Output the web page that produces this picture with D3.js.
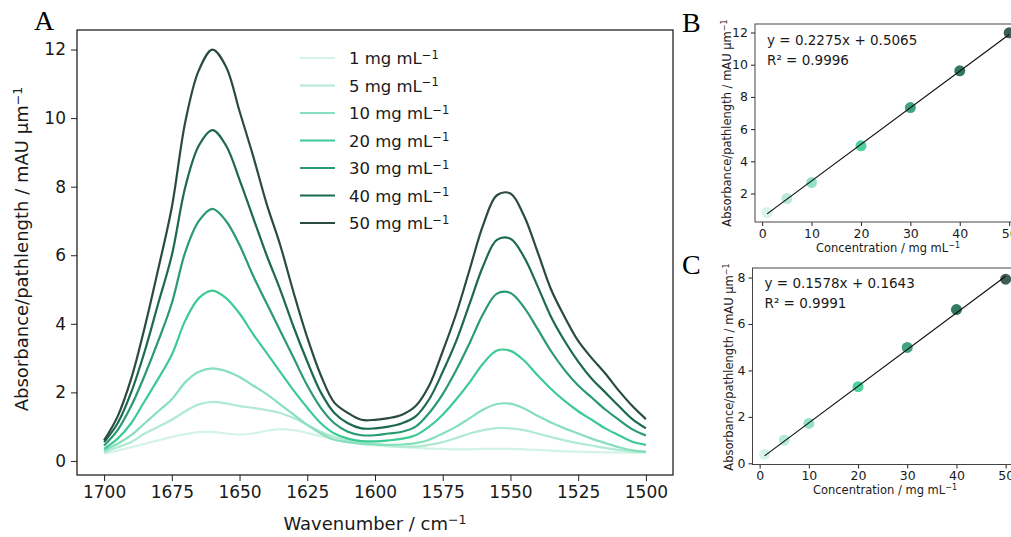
<!DOCTYPE html>
<html>
<head>
<meta charset="utf-8">
<script src="https://cdn.jsdelivr.net/npm/d3@7"></script>
<style>
  body { margin: 0; background: #fff; }
  svg { display: block; }
  text { font-family: 'DejaVu Sans', sans-serif; fill: #1a1a1a; }
  .panel-letter { font-family: 'Liberation Serif', serif; fill: #000; }
</style>
</head>
<body>
<div id="chart"></div>
<script>
const width = 1011;
const height = 537;

// wavenumber grid (cm-1) of the spectra
const wavenumbers = [1700, 1695, 1690, 1685, 1680, 1675, 1670, 1665, 1660, 1655,
    1650, 1645, 1640, 1635, 1630, 1625, 1620, 1615, 1610, 1605,
    1600, 1595, 1590, 1585, 1580, 1575, 1570, 1565, 1560, 1555,
    1550, 1545, 1540, 1535, 1530, 1525, 1520, 1515, 1510, 1505, 1500];

// absorbance/pathlength for each concentration
const abs1 = [0.22, 0.30, 0.40, 0.50, 0.60, 0.70, 0.78, 0.84, 0.85, 0.80,
    0.77, 0.80, 0.88, 0.93, 0.90, 0.82, 0.72, 0.62, 0.55, 0.50,
    0.45, 0.42, 0.40, 0.38, 0.36, 0.35, 0.34, 0.34, 0.35, 0.35,
    0.35, 0.34, 0.32, 0.30, 0.28, 0.27, 0.26, 0.25, 0.25, 0.24, 0.24];
const abs5 = [0.25, 0.40, 0.55, 0.80, 1.00, 1.20, 1.45, 1.65, 1.72, 1.68,
    1.60, 1.55, 1.48, 1.40, 1.25, 1.05, 0.85, 0.70, 0.60, 0.55,
    0.50, 0.45, 0.42, 0.42, 0.47, 0.55, 0.67, 0.80, 0.90, 0.96,
    0.95, 0.90, 0.80, 0.70, 0.60, 0.52, 0.45, 0.38, 0.32, 0.28, 0.26];
const abs10 = [0.30, 0.50, 0.75, 1.10, 1.45, 1.80, 2.30, 2.60, 2.70, 2.62,
    2.45, 2.20, 1.95, 1.65, 1.35, 1.05, 0.80, 0.62, 0.55, 0.50,
    0.48, 0.47, 0.48, 0.52, 0.62, 0.80, 1.00, 1.25, 1.50, 1.66,
    1.67, 1.53, 1.32, 1.12, 0.95, 0.80, 0.65, 0.52, 0.40, 0.31, 0.27];
const abs20 = [0.35, 0.65, 1.10, 1.75, 2.40, 3.10, 4.10, 4.75, 4.97, 4.75,
    4.30, 3.70, 3.15, 2.60, 2.05, 1.55, 1.10, 0.80, 0.65, 0.58,
    0.57, 0.60, 0.65, 0.75, 1.00, 1.35, 1.80, 2.30, 2.85, 3.22,
    3.21, 2.93, 2.50, 2.10, 1.75, 1.45, 1.20, 0.95, 0.75, 0.56, 0.47];
const abs30 = [0.45, 0.90, 1.60, 2.50, 3.50, 4.60, 6.10, 7.00, 7.35, 7.00,
    6.30, 5.40, 4.60, 3.80, 3.00, 2.20, 1.55, 1.10, 0.85, 0.75,
    0.75, 0.80, 0.85, 1.00, 1.40, 1.95, 2.65, 3.45, 4.30, 4.88,
    4.90, 4.48, 3.85, 3.20, 2.65, 2.20, 1.85, 1.50, 1.20, 0.92, 0.74];
const abs40 = [0.55, 1.10, 2.00, 3.20, 4.60, 6.00, 8.00, 9.20, 9.65, 9.20,
    8.20, 7.10, 6.00, 5.00, 3.90, 2.90, 2.00, 1.40, 1.10, 0.95,
    0.95, 1.00, 1.10, 1.30, 1.80, 2.60, 3.50, 4.60, 5.70, 6.45,
    6.48, 5.95, 5.10, 4.20, 3.50, 2.90, 2.40, 2.00, 1.60, 1.22, 0.95];
const abs50 = [0.60, 1.30, 2.40, 3.90, 5.60, 7.40, 9.90, 11.40, 12.00, 11.50,
    10.20, 8.90, 7.50, 6.30, 4.90, 3.60, 2.50, 1.70, 1.40, 1.20,
    1.20, 1.25, 1.35, 1.60, 2.20, 3.20, 4.30, 5.60, 6.90, 7.75,
    7.80, 7.15, 6.10, 5.00, 4.20, 3.50, 3.00, 2.55, 2.05, 1.60, 1.22];

const concentrations = [1, 5, 10, 20, 30, 40, 50];
const seriesColors = ['#d3f3e6', '#b0e9d4', '#86dfbd', '#3ccb95', '#2a9a71', '#1c6a4f', '#2a4b41'];

// calibration points: peak heights at ~1660 (B) and ~1553 (C)
const peakB = [0.82, 1.69, 2.68, 4.96, 7.34, 9.62, 11.98];
const peakC = [0.39, 1.00, 1.72, 3.30, 4.99, 6.62, 7.93];
const fitB = {slope: 0.2275, intercept: 0.5065, r2: '0.9996'};
const fitC = {slope: 0.1578, intercept: 0.1643, r2: '0.9991'};

const xTicksA = [1700, 1675, 1650, 1625, 1600, 1575, 1550, 1525, 1500];
const yTicksA = [0, 2, 4, 6, 8, 10, 12];
const xTicksBC = [0, 10, 20, 30, 40, 50];
const yTicksB = [2, 4, 6, 8, 10, 12];
const yTicksC = [0, 2, 4, 6, 8];

const svg = d3.select('#chart')
    .append('svg')
    .attr('width', width)
    .attr('height', height);

svg.append('rect').attr('width', width).attr('height', height).attr('fill', '#fff');

// text with a trailing superscript
const supText = (sel, base, sup) => {
    sel.append('tspan').text(base);
    sel.append('tspan').attr('dy', '-0.45em').attr('font-size', '0.7em').text(sup);
};

const styleAxis = (g, fontSize) => {
    g.select('.domain').remove();
    g.selectAll('.tick line').attr('stroke', '#222').attr('stroke-width', 1);
    g.selectAll('.tick text').attr('font-size', fontSize).attr('fill', '#1a1a1a')
        .style('font-family', "'DejaVu Sans', sans-serif");
};

// ---------- panel A: spectra ----------
const drawSpectra = () => {
    const box = {left: 77, right: 673, top: 30, bottom: 475};
    const x = d3.scaleLinear().domain([1710, 1490]).range([box.left, box.right]);
    const y = d3.scaleLinear().domain([-0.41, 12.57]).range([box.bottom, box.top]);

    const allSeries = [abs1, abs5, abs10, abs20, abs30, abs40, abs50];

    const line = d3.line()
        .x((d, i) => x(wavenumbers[i]))
        .y(d => y(d))
        .curve(d3.curveCatmullRom.alpha(0.5));

    svg.append('g')
        .selectAll('path')
        .data(allSeries)
        .join('path')
        .attr('fill', 'none')
        .attr('stroke', (d, i) => seriesColors[i])
        .attr('stroke-width', 2.2)
        .attr('stroke-linejoin', 'round')
        .attr('d', line);

    svg.append('g')
        .attr('transform', 'translate(0,' + box.bottom + ')')
        .call(d3.axisBottom(x).tickValues(xTicksA).tickFormat(d3.format('d')).tickSize(6).tickPadding(5))
        .call(g => styleAxis(g, 17));

    svg.append('g')
        .attr('transform', 'translate(' + box.left + ',0)')
        .call(d3.axisLeft(y).tickValues(yTicksA).tickSize(6).tickPadding(5))
        .call(g => styleAxis(g, 17));

    svg.append('rect')
        .attr('x', box.left).attr('y', box.top)
        .attr('width', box.right - box.left).attr('height', box.bottom - box.top)
        .attr('fill', 'none').attr('stroke', '#111').attr('stroke-width', 1.2);

    // legend
    const legend = svg.append('g');
    concentrations.forEach((c, i) => {
        const ly = 58 + i * 27.5;
        legend.append('line')
            .attr('x1', 300).attr('x2', 335).attr('y1', ly).attr('y2', ly)
            .attr('stroke', seriesColors[i]).attr('stroke-width', 2.2);
        legend.append('text')
            .attr('x', 349).attr('y', ly + 6)
            .attr('font-size', 16.5)
            .call(t => supText(t, c + ' mg mL', '\u22121'));
    });

    svg.append('text')
        .attr('x', (box.left + box.right) / 2).attr('y', 530)
        .attr('text-anchor', 'middle').attr('font-size', 18)
        .call(t => supText(t, 'Wavenumber / cm', '\u22121'));

    svg.append('text')
        .attr('transform', 'translate(28,' + 249 + ') rotate(-90)')
        .attr('text-anchor', 'middle').attr('font-size', 18)
        .call(t => supText(t, 'Absorbance/pathlength / mAU \u00b5m', '\u22121'));

    svg.append('text').attr('class', 'panel-letter')
        .attr('x', 34).attr('y', 30).attr('font-size', 28).text('A');
};

// ---------- panels B and C: calibration ----------
const drawCalibration = (opts) => {
    const box = opts.box;
    const x = d3.scaleLinear().domain([-1.45, 52.45])
        .range([box.left, box.left + 53.9 * opts.pxPerUnitX]);
    const y = d3.scaleLinear().domain(opts.yDomain).range([box.bottom, box.top]);

    // points
    svg.append('g')
        .selectAll('circle')
        .data(opts.values)
        .join('circle')
        .attr('cx', (d, i) => x(concentrations[i]))
        .attr('cy', d => y(d))
        .attr('r', 5.5)
        .attr('fill', (d, i) => seriesColors[i])
        .attr('opacity', 0.9);

    // fit line between first and last concentration
    const ends = [concentrations[0], concentrations[concentrations.length - 1]];
    svg.append('path')
        .datum(ends)
        .attr('fill', 'none')
        .attr('stroke', '#111')
        .attr('stroke-width', 1.2)
        .attr('d', d3.line()
            .x(d => x(d))
            .y(d => y(opts.fit.slope * d + opts.fit.intercept)));

    svg.append('g')
        .attr('transform', 'translate(0,' + box.bottom + ')')
        .call(d3.axisBottom(x).tickValues(xTicksBC).tickSize(4).tickPadding(3))
        .call(g => styleAxis(g, 12.5));

    svg.append('g')
        .attr('transform', 'translate(' + box.left + ',0)')
        .call(d3.axisLeft(y).tickValues(opts.yTicks).tickSize(4).tickPadding(3))
        .call(g => styleAxis(g, 12.5));

    svg.append('rect')
        .attr('x', box.left).attr('y', box.top)
        .attr('width', x(52.45) - box.left).attr('height', box.bottom - box.top)
        .attr('fill', 'none').attr('stroke', '#444').attr('stroke-width', 1);

    svg.append('text')
        .attr('x', box.left + 12).attr('y', box.top + opts.eqOffset)
        .attr('font-size', 13.5)
        .text('y = ' + opts.fit.slope + 'x + ' + opts.fit.intercept);
    svg.append('text')
        .attr('x', box.left + 12).attr('y', box.top + opts.eqOffset + 20)
        .attr('font-size', 13.5)
        .text('R\u00b2 = ' + opts.fit.r2);

    svg.append('text')
        .attr('x', opts.xLabelX).attr('y', opts.xLabelY)
        .attr('text-anchor', 'middle').attr('font-size', 11.5)
        .call(t => supText(t, 'Concentration / mg mL', '\u22121'));

    svg.append('text')
        .attr('transform', 'translate(' + opts.yLabelX + ',' + opts.yLabelY + ') rotate(-90)')
        .attr('text-anchor', 'middle').attr('font-size', 11.5)
        .call(t => supText(t, 'Absorbance/pathlength / mAU \u00b5m', '\u22121'));

    svg.append('text').attr('class', 'panel-letter')
        .attr('x', opts.letterX).attr('y', opts.letterY).attr('font-size', 28).text(opts.letter);
};

drawSpectra();

drawCalibration({
    box: {left: 755, top: 24, bottom: 222},
    pxPerUnitX: 4.94,
    yDomain: [0.23, 12.53],
    yTicks: yTicksB,
    values: peakB,
    fit: fitB,
    eqOffset: 21,
    xLabelX: 888, xLabelY: 252,
    yLabelX: 731, yLabelY: 123,
    letter: 'B', letterX: 682, letterY: 32
});

drawCalibration({
    box: {left: 752.5, top: 268, bottom: 464.5},
    pxPerUnitX: 4.92,
    yDomain: [-0.05, 8.41],
    yTicks: yTicksC,
    values: peakC,
    fit: fitC,
    eqOffset: 20,
    xLabelX: 885, xLabelY: 494,
    yLabelX: 733, yLabelY: 367,
    letter: 'C', letterX: 682, letterY: 274
});
</script>
</body>
</html>
